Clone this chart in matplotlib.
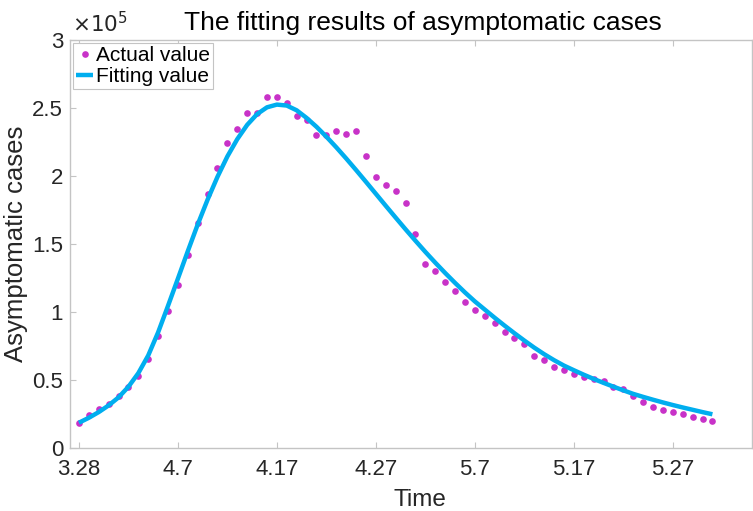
import matplotlib
matplotlib.use("Agg")
import matplotlib.pyplot as plt

plt.rcParams['font.family'] = ['Liberation Sans', 'DejaVu Sans']

# Days since 3.28 (one value per day)
days = list(range(65))

# Actual asymptomatic cases (x 10^5)
actual = [0.183, 0.242, 0.289, 0.326, 0.379, 0.452, 0.531, 0.658, 0.821, 1.010,
          1.202, 1.418, 1.657, 1.870, 2.056, 2.246, 2.344, 2.463, 2.463, 2.578,
          2.578, 2.537, 2.444, 2.410, 2.305, 2.305, 2.334, 2.309, 2.334, 2.146,
          1.990, 1.935, 1.889, 1.799, 1.572, 1.356, 1.303, 1.217, 1.154, 1.076,
          1.015, 0.968, 0.919, 0.853, 0.812, 0.765, 0.680, 0.650, 0.594, 0.570,
          0.543, 0.523, 0.509, 0.494, 0.452, 0.433, 0.379, 0.340, 0.304, 0.276,
          0.262, 0.247, 0.225, 0.213, 0.196]

# Fitted asymptomatic cases (x 10^5)
fitted = [0.186, 0.222, 0.264, 0.313, 0.372, 0.450, 0.550, 0.680, 0.850, 1.045,
          1.245, 1.447, 1.643, 1.826, 1.994, 2.144, 2.271, 2.376, 2.455, 2.505,
          2.525, 2.518, 2.483, 2.427, 2.362, 2.289, 2.211, 2.129, 2.044, 1.957,
          1.869, 1.781, 1.694, 1.608, 1.524, 1.442, 1.363, 1.287, 1.214, 1.144,
          1.078, 1.018, 0.958, 0.900, 0.844, 0.790, 0.738, 0.690, 0.646, 0.606,
          0.572, 0.539, 0.508, 0.479, 0.451, 0.424, 0.398, 0.376, 0.355, 0.335,
          0.316, 0.298, 0.281, 0.264, 0.248]

xtick_pos = [0, 10, 20, 30, 40, 50, 60]
xtick_labels = ['3.28', '4.7', '4.17', '4.27', '5.7', '5.17', '5.27']
ytick_pos = [0, 0.5, 1, 1.5, 2, 2.5, 3]
ytick_labels = ['0', '0.5', '1', '1.5', '2', '2.5', '3']

W, H = 753, 511
fig = plt.figure(figsize=(W / 100, H / 100), dpi=100)
ax = fig.add_axes([70 / W, (H - 448) / H, (752 - 70) / W, (448 - 40) / H])

ax.plot(days, actual, linestyle='none', marker='o', markersize=4.8,
        markerfacecolor='#c832c8', markeredgecolor='none', label='Actual value',
        zorder=2)
ax.plot(days, fitted, color='#00aeef', linewidth=3.2, label='Fitting value',
        zorder=3, solid_capstyle='butt')

ax.set_xlim(-0.9, 68.0)
ax.set_ylim(0, 3)
ax.set_xticks(xtick_pos)
ax.set_xticklabels(xtick_labels)
ax.set_yticks(ytick_pos)
ax.set_yticklabels(ytick_labels)

spine_col = '#c4c4c4'
for s in ax.spines.values():
    s.set_color(spine_col)
    s.set_linewidth(1.0)
ax.tick_params(axis='both', direction='in', length=4, width=0.8, color=spine_col,
               labelcolor='#262626', labelsize=16, top=True)
ax.tick_params(axis='x', pad=8)
ax.tick_params(axis='y', pad=5)

ax.set_title('The fitting results of asymptomatic cases', fontsize=19,
             color='#000000', x=0.5176, pad=7)
ax.set_xlabel('Time', fontsize=17.5, color='#262626')
ax.xaxis.set_label_coords(0.513, -0.1)
ax.set_ylabel('Asymptomatic cases', fontsize=18.5, color='#262626')
ax.yaxis.set_label_coords(-0.062, 0.5)

ax.text(0.003, 1.008, r'$\times10^5$', transform=ax.transAxes, fontsize=15.5,
        color='#262626', ha='left', va='bottom')

leg = ax.legend(loc='upper left', fontsize=15, frameon=True, fancybox=False,
                edgecolor='#c4c4c4', framealpha=1, borderaxespad=0.15,
                handlelength=0.8, handletextpad=0.15, borderpad=0.15,
                labelspacing=0.1, markerscale=1.0)
leg.get_frame().set_linewidth(0.8)
for t in leg.get_texts():
    t.set_color('#000000')

fig.savefig('out.png', dpi=100)
